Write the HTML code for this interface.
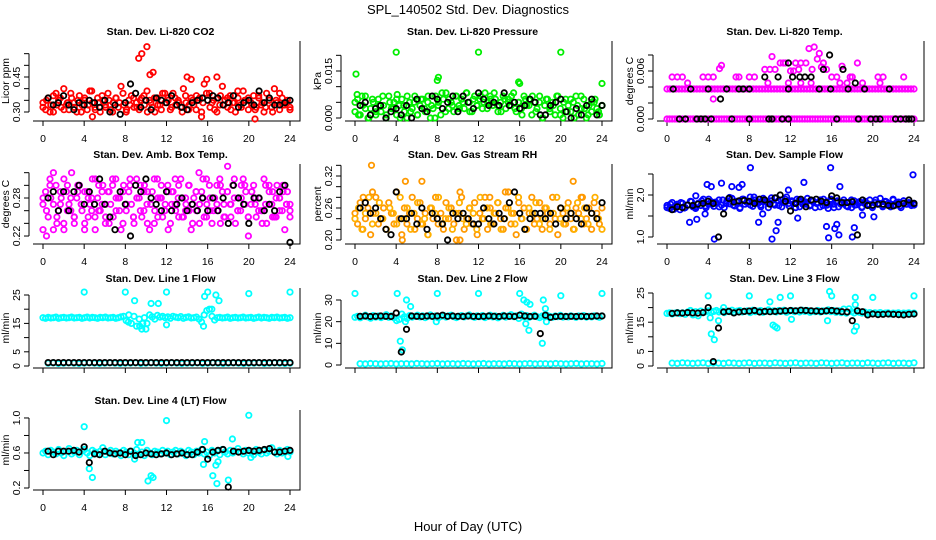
<!DOCTYPE html>
<html><head><meta charset="utf-8">
<style>
html,body{margin:0;padding:0;background:#fff;}
svg{display:block;font-family:"Liberation Sans",Arial,sans-serif;}
.t{font-size:10.5px;font-weight:bold;text-anchor:middle;}
.tk{font-size:10.5px;text-anchor:middle;}
</style></head>
<body>
<svg id="chart" width="936" height="540" viewBox="0 0 936 540" xmlns="http://www.w3.org/2000/svg">
<rect x="0" y="0" width="936" height="540" fill="#fff"/>
<text x="468" y="14" font-size="13" text-anchor="middle">SPL_140502  Std. Dev. Diagnostics</text>
<text x="468" y="531" font-size="13" text-anchor="middle">Hour of Day (UTC)</text>
<g id="plots"></g>
</svg>
<script>
// ---------- data ----------
const xTickLabels = [0,4,8,12,16,20,24];

const co2Red = [.34,.31,.36,.33,.30,.38,.35,.32,.40,.33,.31,.36,.34,.30,.37,.33,.35,.31,.39,.34,.32,.36,.30,.35,.33,.38,.31,.34,.36,.32,.41,.33,.30,.35,.37,.32,.34,.31,.36,.33,.39,.35,.32,.30,.36,.33,.38,.34,.36,.31,.38,.33,.35,.32,.40,.34,.31,.36,.33,.37,.35,.30,.42,.44,.38,.34,.31,.36,.33,.41,.35,.32,.37,.34,.30,.36,.33,.39,.35,.31,.34,.37,.32,.36,.33,.30,.38,.35,.32,.40,.34,.31,.36,.33,.35,.32];
const co2Red2 = [.32,.35,.30,.37,.33,.36,.31,.34,.38,.32,.35,.30,.36,.33,.39,.31,.34,.37,.32,.35,.30,.36,.34,.38,.31,.33,.36,.32,.35,.37,.30,.34,.36,.33,.31,.38,.35,.32,.36,.34,.30,.37,.33,.35,.31,.36,.34,.38,.32,.35,.30,.37,.33,.36,.31,.34,.39,.32,.35,.36,.33,.31,.37,.34,.32,.36,.30,.35,.38,.33,.34,.31];
const co2OutH = [9.3,9.6,10.1,10.4,10.7,14,14.4,16.9,4.8,20.6,15.4];
const co2OutV = [.53,.55,.58,.46,.47,.45,.44,.45,.28,.27,.28];
const co2Black = [.36,.33,.34,.37,.33,.31,.34,.33,.35,.34,.32,.35,.30,.33,.29,.34,.42,.38,.32,.35,.31,.36,.35,.34,.37,.33,.32,.31,.34,.35,.36,.35,.37,.36,.33,.34,.37,.32,.34,.35,.33,.39,.34,.36,.33,.33,.34,.35];

const presGreen = [.002,.006,.001,.004,.007,.000,.003,.005,.001,.006,.002,.004,.000,.007,.003,.005,.001,.004,.006,.002,.000,.005,.003,.007,.001,.004,.006,.002,.005,.000,.003,.007,.004,.001,.006,.008,.003,.005,.002,.007,.004,.006,.003,.008,.005,.002,.007,.004,.006,.003,.008,.005,.007,.004,.006,.002,.005,.007,.003,.006,.004,.008,.002,.005,.003,.007,.004,.006,.001,.005,.003,.007,.000,.004,.006,.002,.005,.001,.007,.003,.000,.006,.004,.002,.005,.007,.001,.003,.006,.000,.004,.002,.005,.003,.001,.004];
const presGreen2 = [.005,.001,.007,.003,.000,.006,.002,.004,.007,.001,.005,.003,.006,.000,.004,.007,.002,.005,.001,.006,.003,.007,.004,.000,.005,.008,.002,.006,.004,.007,.003,.005,.008,.002,.006,.004,.007,.005,.003,.006,.008,.004,.002,.006,.005,.007,.003,.005,.001,.006,.004,.007,.002,.005,.000,.006,.003,.004,.007,.001,.005,.002,.006,.000,.004,.007,.003,.001,.005,.006,.002,.004];
const presOutH = [0.1,4,8,8.1,12,16,15.9,20,24,0.2,4.1];
const presOutV = [.014,.021,.012,.013,.021,.011,.0115,.021,.011,.0075,.0075];
const presBlack = [.004,.005,.001,.003,.004,.000,.002,.003,.001,.004,.000,.006,.003,.002,.007,.006,.003,.005,.007,.002,.007,.005,.003,.008,.006,.004,.005,.004,.008,.004,.005,.003,.004,.006,.005,.001,.001,.004,.005,.006,.002,.000,.003,.001,.004,.006,.001,.004];

const tempZeroMag = [0,0,0,0,0,0,0,0,0,0,0,0,0,0,0,0,0,0,0,0,0,0,0,0,0,0,0,0,0,0,0,0,0,0,0,0,0,0,0,0,0,0,0,0,0,0,0,0,0,0,0,0,0,0,0,0,0,0,0,0,0,0,0,0,0,0,0,0,0,0,0,0,0,0,0,0,0,0,0,0,0,0,0,0,0,0,0,0,0,0,0,0,0,0,0,0];
const tempMidMag = [.00375,.00375,.00375,.00375,.00375,.00375,.00375,.00375,.00375,.00375,.00375,.00375,.00375,.00375,.00375,.00375,.00375,.00375,.00375,.00375,.00375,.00375,.00375,.00375,.00375,.00375,.00375,.00375,.00375,.00375,.00375,.00375,.00375,.00375,.00375,.00375,.00375,.00375,.00375,.00375,.00375,.00375,.00375,.00375,.00375,.00375,.00375,.00375,.00375,.00375,.00375,.00375,.00375,.00375,.00375,.00375,.00375,.00375,.00375,.00375,.00375,.00375,.00375,.00375,.00375,.00375,.00375,.00375,.00375,.00375,.00375,.00375,.00375,.00375,.00375,.00375,.00375,.00375,.00375,.00375,.00375,.00375,.00375,.00375];
const tempScatH = [0.5,1,1.5,2,3.5,4,4.5,4.5,5.1,5.3,6.7,7,8,8.5,9.5,10,10.5,10.2,11,11.5,12,12.5,13,13.5,13.8,14.3,14.6,15,15.5,16,16.5,17,17.5,18,18.5,19,20.5,20.7,21,23,11.8,13,14,12.3,14.1,9.8,16.8,11.3,12.8,14.8,15.2,17.8];
const tempScatV = [.00525,.00525,.00525,.0045,.00525,.00525,.00525,.0025,.0063,.0067,.00525,.00525,.00525,.00525,.0062,.0062,.0062,.0078,.007,.007,.006,.007,.007,.007,.0088,.009,.0075,.0065,.0062,.00525,.00525,.0066,.0045,.00525,.007,.0045,.00525,.0045,.00525,.00525,.0045,.0045,.0045,.006,.0062,.0045,.0045,.007,.0062,.0082,.007,.00525];
const tempBlackH = [0.6,1.2,1.8,2.3,2.9,3.3,3.7,4,4.3,5.2,5.8,6.3,7,7.4,8,8,9.5,9.9,10.2,10.8,11.2,11.8,11.8,11.8,12.2,12.9,13.4,14,14.8,15.2,15.8,15.9,16.5,17.1,17.6,18.3,18.6,19.2,19.8,20.3,20.7,21.6,22.2,22.7,23.2,23.5,23.8];
const tempBlackV = [.00375,0,0,.00375,0,0,0,.00375,0,.0025,.00375,0,.00375,.00375,0,.00375,.00525,0,0,.00525,0,0,.007,.00375,.00525,.00525,.00525,.00525,.00375,.0062,.008,.00375,0,.0062,.00375,.0045,0,.00375,0,0,0,.00375,0,0,0,0,0];

const ambMag = [.27,.29,.25,.28,.23,.30,.26,.28,.24,.29,.27,.32,.25,.28,.30,.26,.23,.29,.27,.31,.25,.28,.26,.30,.24,.29,.27,.25,.31,.28,.23,.30,.26,.29,.27,.24,.31,.28,.25,.30,.27,.23,.29,.26,.31,.28,.25,.27,.30,.24,.29,.26,.28,.31,.25,.27,.30,.23,.28,.26,.32,.29,.25,.27,.30,.24,.28,.26,.31,.29,.25,.33,.27,.30,.24,.28,.26,.31,.29,.22,.27,.30,.25,.28,.26,.31,.24,.29,.27,.25,.30,.28,.26,.23,.29,.27];
const ambMag2 = [.28,.26,.30,.27,.25,.29,.31,.26,.28,.24,.30,.27,.29,.25,.28,.31,.26,.29,.27,.24,.30,.28,.26,.29,.27,.31,.25,.28,.30,.26,.29,.27,.24,.28,.30,.26,.29,.27,.31,.25,.28,.26,.30,.27,.29,.24,.28,.31,.26,.28,.27,.30,.25,.29,.27,.31,.26,.28,.30,.25,.29,.27,.28,.26,.30,.27,.29,.25,.28,.30,.27,.26];
const ambMag3 = [.23,.22,.31,.32,.24,.27,.23,.30,.26,.25,.29,.27,.24,.28,.26,.23,.30,.27,.25,.29,.31,.26,.28,.24,.27,.30,.25,.28,.26,.29,.24,.27,.31,.25,.28,.26,.23,.29,.27,.30,.25,.28,.26,.24,.29,.27,.31,.25,.28,.26,.30,.24,.27,.29,.25,.28,.26,.30,.27,.25,.29,.28,.26,.24,.27,.30,.25,.28,.26,.29,.27,.25];
const ambBlack = [.28,.29,.26,.29,.26,.29,.30,.27,.29,.27,.31,.27,.25,.23,.29,.27,.22,.30,.29,.31,.28,.27,.26,.29,.26,.27,.28,.26,.27,.26,.28,.26,.28,.26,.28,.24,.30,.28,.27,.24,.28,.28,.26,.27,.26,.29,.30,.21];

const rhOrange = [.25,.23,.27,.22,.24,.26,.21,.25,.28,.23,.24,.26,.22,.27,.25,.23,.29,.24,.21,.26,.23,.25,.28,.22,.24,.27,.23,.25,.21,.26,.24,.28,.23,.25,.22,.27,.24,.26,.23,.20,.25,.28,.22,.24,.26,.23,.27,.21,.25,.24,.28,.22,.26,.23,.25,.27,.24,.22,.26,.29,.23,.25,.21,.27,.24,.26,.22,.25,.28,.23,.24,.27,.22,.26,.25,.23,.28,.24,.21,.26,.25,.23,.27,.24,.22,.26,.25,.28,.23,.24,.26,.22,.27,.25,.23,.26];
const rhOrange2 = [.24,.26,.22,.25,.28,.23,.25,.27,.24,.22,.26,.25,.23,.28,.24,.26,.22,.25,.27,.23,.24,.21,.26,.25,.28,.23,.24,.26,.22,.25,.27,.24,.23,.26,.25,.22,.28,.24,.26,.23,.25,.27,.22,.24,.26,.25,.23,.28,.24,.22,.26,.25,.27,.23,.24,.26,.22,.25,.28,.24,.23,.26,.25,.22,.27,.24,.26,.23,.25,.28,.24,.22];
const rhOutH = [1.6,4.9,6.5,10.2,14.6,21.2,4.6,10.2,0.8,1.7,13.1,22.1];
const rhOutV = [.34,.31,.31,.29,.29,.31,.20,.20,.28,.29,.28,.28];
const rhBlack = [.26,.27,.25,.26,.24,.22,.21,.29,.24,.24,.25,.23,.26,.22,.25,.24,.23,.20,.25,.24,.25,.24,.23,.23,.26,.24,.23,.25,.24,.27,.29,.25,.22,.24,.25,.25,.24,.25,.23,.26,.24,.25,.24,.23,.26,.25,.24,.27];

const flowBlue = [1.75,1.68,1.82,1.72,1.78,1.65,1.80,1.70,1.76,1.85,1.72,1.68,1.80,1.75,1.90,1.70,1.78,1.84,1.73,1.80,1.88,1.76,1.70,1.86,1.79,1.92,1.74,1.83,1.68,1.90,1.78,1.85,1.95,1.73,1.88,1.80,1.76,1.92,1.84,1.70,1.86,1.79,1.93,1.75,1.88,1.82,1.95,1.74,1.86,1.80,1.90,1.72,1.84,1.78,1.92,1.76,1.86,1.70,1.82,1.88,1.75,1.83,1.68,1.90,1.78,1.85,1.72,1.80,1.88,1.74,1.82,1.70,1.86,1.77,1.84,1.72,1.80,1.76,1.88,1.70,1.82,1.78,1.92,1.74,1.85,1.80,1.72,1.88,1.76,1.83,1.70,1.86,1.78,1.82,1.75,1.80];
const flowBlue2 = [1.70,1.78,1.66,1.74,1.82,1.69,1.76,1.84,1.71,1.80,1.86,1.74,1.90,1.78,1.83,1.72,1.88,1.80,1.94,1.76,1.85,1.70,1.90,1.82,1.76,1.95,1.84,1.72,1.88,1.80,1.93,1.76,1.86,1.72,1.90,1.80,1.84,1.70,1.88,1.78,1.83,1.74,1.86,1.80,1.72,1.90,1.76,1.84,1.70,1.86,1.78,1.82,1.72,1.88,1.76,1.80,1.70,1.85,1.78,1.74,1.88,1.80,1.72,1.84,1.76,1.90,1.82,1.74,1.86,1.78,1.80,1.76];
const flowOutH = [2.2,2.9,3.9,4.3,4.6,5.3,6.3,7,7.3,8.1,8.9,9.3,10.2,10.6,10.8,11.8,12.7,13.3,15.5,15.7,15.9,16.3,16.5,16.7,16.8,18.2,18,20.1,23.9,19,2.8,3.7];
const flowOutV = [1.35,1.42,2.25,2.2,0.95,2.28,2.2,2.18,2.25,2.65,1.35,1.55,0.95,1.15,1.35,2.12,1.45,2.3,1.25,0.98,2.65,1.2,1.3,1.05,2.2,1.22,1.0,1.48,2.48,1.52,1.98,1.55];
const flowBlack = [1.65,1.72,1.70,1.76,1.75,1.78,1.80,1.85,1.80,1.00,1.55,1.92,1.83,1.86,1.87,1.85,1.80,1.90,1.88,1.78,1.93,2.00,1.85,1.62,1.80,1.90,1.72,1.88,1.90,1.85,1.82,1.98,1.93,1.82,1.82,1.84,1.05,1.88,1.75,1.76,1.78,1.78,1.75,1.74,1.78,1.80,1.88,1.80];

const l1Cyan = [17,16.8,17.1,16.9,17,17.2,16.8,17,17.1,16.9,17,17.2,16.9,17,17.1,16.8,17,17.2,16.9,17.1,17,16.8,17.1,17,17.2,16.9,17,17.1,16.8,17,17.3,17.5,16,18,15,17.5,14,16.5,13,17,15,18,17.3,16.5,17.8,17.2,17.5,17,17.3,16.8,17.5,17.2,17,17.4,16.8,17.1,17.3,16.9,17,17.2,16.5,15.5,18,19.5,20,17.5,16.2,17,17.1,16.9,17,17.2,16.8,17,17.1,16.9,17,17.2,16.9,17,17.1,16.8,17,17.2,16.9,17.1,17,16.8,17.1,17,17.2,16.9,17,17.1,16.8,17];
const l1CyanLow = [1,1.1,0.9,1,1.1,1,0.9,1,1.1,1,0.9,1,1.1,1,0.9,1,1,1.1,0.9,1,1.1,1,0.9,1,1.1,1,0.9,1,1,1.1,0.9,1,1.1,1,0.9,1,1.1,1,0.9,1,1,1.1,0.9,1,1.1,1,0.9,1];
const l1OutH = [4,8,12,16,20,24,8.9,10.5,11.2,15.7,16.8,17.1,15.6,12,10,9.4,8.3,9.7,16.4];
const l1OutV = [26,26,26,26,25.5,26,23,22,22,24.5,25,23,14,14.5,13,14,15.5,15,20];
const l1Black = [1.2,1.2,1.2,1.2,1.2,1.2,1.2,1.2,1.2,1.2,1.2,1.2,1.2,1.2,1.2,1.2,1.2,1.2,1.2,1.2,1.2,1.2,1.2,1.2,1.2,1.2,1.2,1.2,1.2,1.2,1.2,1.2,1.2,1.2,1.2,1.2,1.2,1.2,1.2,1.2,1.2,1.2,1.2,1.2,1.2,1.2,1.2,1.2];

const l2Cyan = [22,22.5,21.8,22.4,23,22.2,21.6,22.8,22.1,22.6,21.9,22.4,23.2,22,22.6,21.8,20.5,21,23.5,22.3,21.5,22.8,22.1,22.5,23,22.2,22.7,21.9,22.4,23.1,22.3,22.6,21.8,22.4,22.9,22.1,22.6,23,22.3,21.9,22.5,22.8,22.2,22.6,23.1,22.4,22,22.7,22.3,22.8,21.9,22.5,23,22.2,22.6,21.8,22.4,22.9,22.1,22.6,23.2,22.3,22.7,21.5,23.5,22.2,22.8,22,22.5,23,22.3,21.9,22.6,22.2,22.8,22.4,22,22.6,22.3,22.9,22.1,22.5,22.2,22.7,22.4,22,22.6,22.3,22.8,22.1,22.5,22.2,22.7,22.4,22,22.6];
const l2CyanLow = [0.6,0.5,0.7,0.6,0.5,0.6,0.7,0.5,0.6,0.6,0.5,0.7,0.6,0.5,0.6,0.7,0.5,0.6,0.6,0.5,0.7,0.6,0.5,0.6,0.7,0.5,0.6,0.6,0.5,0.7,0.6,0.5,0.6,0.7,0.5,0.6,0.6,0.5,0.7,0.6,0.5,0.6,0.7,0.5,0.6,0.6,0.5,0.7];
const l2OutH = [0,4.1,5,5.4,8,12,16,16.4,16.7,17,18.3,18.5,20,24,4.4,4.6,4.9,7.9,16.6,16.9,18.2,18.6];
const l2OutV = [33,33,30,27,33,33,33,30,29,28,30,26,32,33,11,7,20,20,19,16,10,20];
const l2Black = [22.5,22.6,22.4,22.5,22.6,22.5,22.4,24,6,16.5,22.6,22.5,22.4,22.6,22.5,22.6,23,22.5,22.6,22.5,22.4,22.6,22.5,22.4,22.5,22.6,22.5,22.4,22.6,22.5,22.4,23,22.6,22.4,22.5,14.5,23,22,22.4,22.5,22.4,22.5,22.4,22.5,22.4,22.5,22.6,22.6];

const l3Cyan = [18,18.2,17.8,18.1,18.3,17.9,18.2,17.7,18.5,19,17.5,18.6,17.2,18.8,18.3,18.6,18.9,18.4,18.7,19,18.5,18.8,18.3,18.9,18.6,19.1,18.4,18.8,19,18.5,18.7,18.9,18.3,19.1,18.6,18.8,19,18.4,18.7,19.2,18.6,18.9,18.5,19,18.7,19.1,18.4,18.8,19,18.6,18.9,18.5,19.1,18.7,19,18.4,18.8,18.6,19,18.5,18.9,18.7,19.2,18.6,19,18.4,18.9,18.3,19.5,18.1,19.6,18.6,18.2,18.9,18.4,18.1,18.5,18,18.3,17.9,18.2,18,18.3,17.9,18.1,18.2,17.8,18.1,18,18.2,17.8,18.1,18,18.2,17.9,18.1];
const l3CyanLow = [1,0.9,1.1,1,0.9,1,1.1,0.9,1,1,0.9,1.1,1,0.9,1,1.1,0.9,1,1,0.9,1.1,1,0.9,1,1.1,0.9,1,1,0.9,1.1,1,0.9,1,1.1,0.9,1,1,0.9,1.1,1,0.9,1,1.1,0.9,1,1,0.9,1.1];
const l3OutH = [4,4.3,4.6,5,8,10,10.3,10.5,10.7,11,12,12.1,15.8,16,15.6,18.2,18.4,18.3,18.3,20,24,4.2,5.5];
const l3OutV = [24,11,9,15.5,24,22,14,13.5,13,23.5,24,16,25.5,24,15.5,12,13.5,21,23.5,23.5,24,16.5,20];
const l3Black = [18,18.2,18.1,18.3,18.2,18.1,18.3,20,1.5,13,18.5,18.7,18.2,18.5,18.7,18.8,19,18.5,18.7,18.6,18.7,18.8,18.9,19,18.9,19.1,19,18.9,18.8,18.7,18.9,19,18.8,18.6,18.5,15.5,18.9,18.6,17.5,17.8,17.6,17.7,17.8,17.7,17.6,17.5,17.7,17.8];

const l4Cyan = [.60,.62,.58,.63,.61,.59,.64,.60,.57,.62,.65,.59,.61,.63,.58,.62,.64,.60,.57,.63,.61,.59,.62,.66,.58,.61,.63,.59,.62,.60,.57,.63,.61,.58,.62,.60,.64,.59,.61,.57,.63,.60,.58,.62,.61,.59,.63,.60,.62,.58,.61,.63,.59,.62,.60,.57,.63,.61,.58,.62,.60,.64,.59,.61,.57,.63,.60,.62,.58,.64,.61,.59,.63,.60,.62,.65,.61,.59,.63,.60,.62,.58,.64,.61,.59,.63,.60,.62,.66,.61,.59,.63,.60,.62,.64,.61];
const l4OutH = [4,4.5,4.8,9.2,9.6,10.2,10.5,10.7,12,15.6,15.7,16.5,16.8,16.9,17,18,18.4,20,8.9,20.2,23.8];
const l4OutV = [0.9,0.42,0.32,0.72,0.72,0.28,0.34,0.32,0.97,0.47,0.73,0.34,0.46,0.25,0.5,0.29,0.76,1.03,0.53,0.55,0.56];
const l4Black = [.62,.58,.62,.62,.62,.63,.61,.67,.49,.59,.58,.62,.60,.59,.60,.58,.62,.57,.58,.60,.59,.58,.59,.60,.58,.59,.60,.58,.58,.61,.64,.53,.61,.63,.64,.21,.62,.61,.62,.63,.62,.63,.64,.65,.61,.61,.62,.63];

// y tick values / labels
const co2Ticks=[.30,.35,.40,.45,.50,.55], co2Labels=["0.30","","","0.45","",""];
const presTicks=[0,.005,.010,.015,.020], presLabels=["0.000","","","0.015",""];
const tempTicks=[0,.002,.004,.006,.008], tempLabels=["0.000","","","0.006",""];
const ambTicks=[.22,.24,.26,.28,.30,.32], ambLabels=["0.22","","","0.28","",""];
const rhTicks=[.20,.22,.24,.26,.28,.30,.32,.34], rhLabels=["0.20","","","0.26","","","0.32",""];
const flowTicks=[1.0,1.5,2.0,2.5], flowLabels=["1.0","","2.0",""];
const l1Ticks=[0,5,10,15,20,25], l1Labels=["0","5","","15","","25"];
const l2Ticks=[0,10,20,30], l2Labels=["0","10","20","30"];
const l3Ticks=[0,5,10,15,20,25], l3Labels=["0","5","","15","","25"];
const l4Ticks=[.2,.4,.6,.8,1.0], l4Labels=["0.2","","0.6","","1.0"];

// ---------- layout ----------
const NS="http://www.w3.org/2000/svg";
const root=document.getElementById('plots');
const rowTop=[41,164,288,410];
const H=80, W=267;
function el(t,a,p){const e=document.createElementNS(NS,t);for(const k in a)e.setAttribute(k,a[k]);(p||root).appendChild(e);return e;}
const panels=[
 {name:"co2",title:"Stan. Dev. Li-820 CO2",yt:"Licor ppm",r:0,c:0,lo:.2614,hi:.6043,ticks:co2Ticks,labels:co2Labels,xl:true,
  series:[[co2Red,null,"#ff0000"],[co2Red2,null,"#ff0000"],[co2Black,"b","#000"],[co2OutV,co2OutH,"#ff0000"]]},
 {name:"pressure",title:"Stan. Dev. Li-820 Pressure",yt:"kPa",r:0,c:1,lo:-.00096,hi:.02457,ticks:presTicks,labels:presLabels,xl:true,
  series:[[presGreen,null,"#00ee00"],[presGreen2,null,"#00ee00"],[presOutV,presOutH,"#00ee00"],[presBlack,"b","#000"]]},
 {name:"temp",title:"Stan. Dev. Li-820 Temp.",yt:"degrees C",r:0,c:2,lo:-.00025,hi:.00975,ticks:tempTicks,labels:tempLabels,xl:true,
  series:[[tempZeroMag,null,"#ff00ff"],[tempMidMag,null,"#ff00ff"],[tempScatV,tempScatH,"#ff00ff"],[tempBlackV,tempBlackH,"#000"]]},
 {name:"amb-box-temp",title:"Stan. Dev. Amb. Box Temp.",yt:"degrees C",r:1,c:0,lo:.2074,hi:.3337,ticks:ambTicks,labels:ambLabels,xl:true,
  series:[[ambMag,null,"#ff00ff"],[ambMag2,null,"#ff00ff"],[ambMag3,null,"#ff00ff"],[ambBlack,"b","#000"]]},
 {name:"gas-rh",title:"Stan. Dev. Gas Stream RH",yt:"percent",r:1,c:1,lo:.1925,hi:.3425,ticks:rhTicks,labels:rhLabels,xl:true,
  series:[[rhOrange,null,"#ff9900"],[rhOrange2,null,"#ffb000"],[rhOutV,rhOutH,"#ff9900"],[rhBlack,"b","#000"]]},
 {name:"sample-flow",title:"Stan. Dev. Sample Flow",yt:"ml/min",r:1,c:2,lo:.833,hi:2.738,ticks:flowTicks,labels:flowLabels,xl:true,
  series:[[flowBlue,null,"#0000ff"],[flowBlue2,null,"#0000ff"],[flowOutV,flowOutH,"#0000ff"],[flowBlack,"b","#000"]]},
 {name:"line1-flow",title:"Stan. Dev. Line 1 Flow",yt:"ml/min",r:2,c:0,lo:-.7,hi:27.46,ticks:l1Ticks,labels:l1Labels,xl:false,
  series:[[l1Cyan,null,"#00ffff"],[l1CyanLow,"b","#00ffff"],[l1OutV,l1OutH,"#00ffff"],[l1Black,"b","#000"]]},
 {name:"line2-flow",title:"Stan. Dev. Line 2 Flow",yt:"ml/min",r:2,c:1,lo:-1.38,hi:35.54,ticks:l2Ticks,labels:l2Labels,xl:false,
  series:[[l2Cyan,null,"#00ffff"],[l2CyanLow,"b","#00ffff"],[l2OutV,l2OutH,"#00ffff"],[l2Black,"b","#000"]]},
 {name:"line3-flow",title:"Stan. Dev. Line 3 Flow",yt:"ml/min",r:2,c:2,lo:-.68,hi:26.71,ticks:l3Ticks,labels:l3Labels,xl:false,
  series:[[l3Cyan,null,"#00ffff"],[l3CyanLow,"b","#00ffff"],[l3OutV,l3OutH,"#00ffff"],[l3Black,"b","#000"]]},
 {name:"line4-flow",title:"Stan. Dev. Line 4 (LT) Flow",yt:"ml/min",r:3,c:0,lo:.177,hi:1.091,ticks:l4Ticks,labels:l4Labels,xl:true,
  series:[[l4Cyan,null,"#00ffff"],[l4OutV,l4OutH,"#00ffff"],[l4Black,"b","#000"]]}
];

panels.forEach(p=>{
  const L=33+p.c*312, T=rowTop[p.r], B=T+H, R=L+W;
  const g=el('g',{});
  
  
  const xs=h=>L+10+h*(W-20)/24;
  const ys=v=>B-(v-p.lo)/(p.hi-p.lo)*H;
  const t=el('text',{x:L+W/2-6,y:T-6,class:'t'},g); t.textContent=p.title;
  
  
  const fr=el('path',{d:`M${L} ${B}H${R}V${T}`,stroke:'#000','stroke-width':1,fill:'none'},g);
  
  
  const xa=el('g',{},g);
  
  
  xTickLabels.forEach(h=>{
    el('line',{x1:xs(h),x2:xs(h),y1:B,y2:B+5,stroke:'#000'},xa);
    if(p.xl){const tx=el('text',{x:xs(h),y:B+21,class:'tk'},xa);tx.textContent=h;}
  });
  const ya=el('g',{},g);
  
  
  const ax=L-4;
  el('line',{x1:ax,x2:ax,y1:ys(p.ticks[0]),y2:ys(p.ticks[p.ticks.length-1]),stroke:'#000'},ya);
  p.ticks.forEach((v,i)=>{
    el('line',{x1:ax-5,x2:ax,y1:ys(v),y2:ys(v),stroke:'#000'},ya);
    if(p.labels[i]){const tx=el('text',{x:0,y:0,class:'tk',transform:`translate(${ax-9},${ys(v)}) rotate(-90)`},ya);tx.textContent=p.labels[i];}
  });
  const yt=el('text',{x:0,y:0,class:'tk',transform:`translate(${L-24},${(T+B)/2}) rotate(-90)`},g);
  yt.textContent=p.yt;
  
  
  p.series.forEach((s,si)=>{
    const vals=s[0], hrs=s[1], col=s[2];
    const sg=el('g',{stroke:col,'stroke-width':1.8,fill:'none'},g);
    
    
    vals.forEach((v,i)=>{
      let h;
      if(hrs==="b") h=0.5+i*23.5/(vals.length-1);
      else if(hrs) h=hrs[i];
      else h=i*24/(vals.length-1);
      const c=el('circle',{cx:xs(h).toFixed(1),cy:ys(v).toFixed(1),r:2.7},sg);
      
      
    });
  });
});
</script>
</body></html>
